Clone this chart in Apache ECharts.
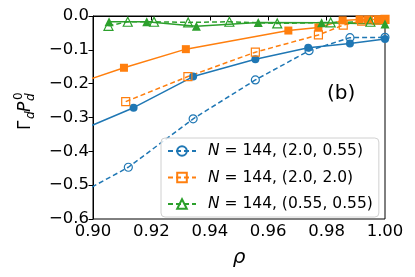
<!DOCTYPE html>
<html><head><meta charset="utf-8">
<script src="https://cdn.jsdelivr.net/npm/echarts@6/dist/echarts.min.js"></script>
<style>html,body{margin:0;padding:0;background:#fff}#c{width:415px;height:277px}</style>
</head><body><div id="c"></div>
<script>
// ---- data ----
const xTicks = [0.90, 0.92, 0.94, 0.96, 0.98, 1.00];
const yTicks = [0.0, -0.1, -0.2, -0.3, -0.4, -0.5, -0.6];
const legendNames = ['N = 144, (2.0, 0.55)', 'N = 144, (2.0, 2.0)', 'N = 144, (0.55, 0.55)'];

const blueSolidX = [0.89, 0.9139, 0.9343, 0.9556, 0.9737, 0.988, 1.0];
const blueSolidY = [-0.359, -0.271, -0.179, -0.128, -0.094, -0.081, -0.068];
const blueDashX  = [0.89, 0.9121, 0.9343, 0.9556, 0.974, 0.988, 1.0];
const blueDashY  = [-0.551, -0.447, -0.304, -0.189, -0.1025, -0.064, -0.063];

const orangeSolidX = [0.89, 0.9106, 0.9318, 0.9669, 0.9772, 0.9855, 0.9913, 0.9942, 0.9976, 1.0];
const orangeSolidY = [-0.213, -0.153, -0.098, -0.043, -0.034, -0.013, -0.010, -0.010, -0.010, -0.010];
const orangeDashX  = [0.9112, 0.9325, 0.9556, 0.9772, 0.9857, 0.992, 0.997, 1.0];
const orangeDashY  = [-0.253, -0.179, -0.107, -0.056, -0.027, -0.015, -0.012, -0.010];

const greenSolidX = [0.9055, 0.9184, 0.9354, 0.9566, 0.9783, 1.0];
const greenSolidY = [-0.017, -0.017, -0.030, -0.019, -0.020, -0.024];
const greenDashX  = [0.9053, 0.9119, 0.9209, 0.9326, 0.9467, 0.9631, 0.9814, 0.995];
const greenDashY  = [-0.029, -0.017, -0.017, -0.019, -0.017, -0.022, -0.019, -0.017];

const C_BLUE = '#1f77b4', C_ORANGE = '#ff7f0e', C_GREEN = '#2ca02c';
const FONT = 'DejaVu Sans';

function pairs(xs, ys) { return xs.map((x, i) => [x, ys[i]]); }

function solid(name, xs, ys, color, symbol, size) {
  return {
    name, type: 'line', data: pairs(xs, ys), symbol, symbolSize: size,
    lineStyle: { color, width: 1.5 }, itemStyle: { color },
    showAllSymbol: true, animation: false, clip: true
  };
}
function dashed(name, xs, ys, color, symbol, size) {
  return {
    name, type: 'line', data: pairs(xs, ys), symbol, symbolSize: size,
    lineStyle: { color, width: 1.5, type: [5, 3] },
    itemStyle: { color: 'rgba(255,255,255,0)', borderColor: color, borderWidth: 1.2 },
    showAllSymbol: true, animation: false, clip: true
  };
}

const chart = echarts.init(document.getElementById('c'), null, { renderer: 'canvas' });
chart.setOption({
  animation: false,
  grid: { left: 93, right: 30, top: 16, bottom: 58, show: true, borderColor: '#000', borderWidth: 1, backgroundColor: 'transparent' },
  xAxis: {
    type: 'value', min: xTicks[0], max: xTicks[xTicks.length - 1], interval: 0.02,
    axisLine: { show: true, lineStyle: { color: '#000', width: 1 } },
    axisTick: { show: true, length: 4.5, lineStyle: { color: '#000' } },
    axisLabel: { color: '#000', fontSize: 16.5, fontFamily: FONT, margin: 4, formatter: v => v.toFixed(2) },
    splitLine: { show: false },
    name: 'ρ', nameLocation: 'middle', nameGap: 29,
    nameTextStyle: { fontSize: 20, fontStyle: 'italic', fontFamily: FONT, color: '#000' }
  },
  yAxis: {
    type: 'value', min: yTicks[yTicks.length - 1], max: yTicks[0], interval: 0.1,
    axisLine: { show: true, lineStyle: { color: '#000', width: 1 } },
    axisTick: { show: true, length: 4.5, lineStyle: { color: '#000' } },
    axisLabel: { color: '#000', fontSize: 16.5, fontFamily: FONT, margin: 4,
      formatter: v => (v < -1e-9 ? '\u2212' : '') + Math.abs(v).toFixed(1) },
    splitLine: { show: false }
  },
  legend: {
    data: legendNames, orient: 'vertical', left: 161, top: 138,
    itemWidth: 28, itemHeight: 12, itemGap: 10.5,
    padding: [5, 6, 5, 6],
    borderColor: '#d0d0d0', borderWidth: 1, borderRadius: 4,
    backgroundColor: 'rgba(255,255,255,0.8)',
    textStyle: { fontSize: 15.5, fontFamily: FONT, color: '#000', padding: [0, 0, 0, 7],
      rich: { i: { fontStyle: 'italic', fontSize: 15.5, fontFamily: FONT, color: '#000' } } },
    formatter: n => '{i|N}' + n.slice(1)
  },
  graphic: [
    { type: 'text', left: 327, top: 84, style: { text: '(b)', font: '20px DejaVu Sans', fill: '#000' } },
    { type: 'group', x: 26, y: 109, rotation: Math.PI / 2, children: [
      { type: 'text', x: -21, y: 0, style: { text: 'Γ', font: '17px DejaVu Sans', fill: '#000', textAlign: 'left', textVerticalAlign: 'middle', align: 'left', verticalAlign: 'middle' } },
      { type: 'text', x: -10, y: 5, style: { text: 'd', font: 'italic 12px DejaVu Sans', fill: '#000', textAlign: 'left', textVerticalAlign: 'middle', align: 'left', verticalAlign: 'middle' } },
      { type: 'text', x: -3, y: 0, style: { text: 'P', font: 'italic 17px DejaVu Sans', fill: '#000', textAlign: 'left', textVerticalAlign: 'middle', align: 'left', verticalAlign: 'middle' } },
      { type: 'text', x: 8, y: 5, style: { text: 'd', font: 'italic 12px DejaVu Sans', fill: '#000', textAlign: 'left', textVerticalAlign: 'middle', align: 'left', verticalAlign: 'middle' } },
      { type: 'text', x: 9, y: -7, style: { text: '0', font: '12px DejaVu Sans', fill: '#000', textAlign: 'left', textVerticalAlign: 'middle', align: 'left', verticalAlign: 'middle' } }
    ] }
  ],
  series: [
    solid('bs', blueSolidX, blueSolidY, C_BLUE, 'circle', 8),
    dashed(legendNames[0], blueDashX, blueDashY, C_BLUE, 'circle', 8),
    solid('os', orangeSolidX, orangeSolidY, C_ORANGE, 'rect', 8),
    dashed(legendNames[1], orangeDashX, orangeDashY, C_ORANGE, 'rect', 8),
    solid('gs', greenSolidX, greenSolidY, C_GREEN, 'triangle', 9),
    dashed(legendNames[2], greenDashX, greenDashY, C_GREEN, 'triangle', 9)
  ]
});
</script></body></html>
